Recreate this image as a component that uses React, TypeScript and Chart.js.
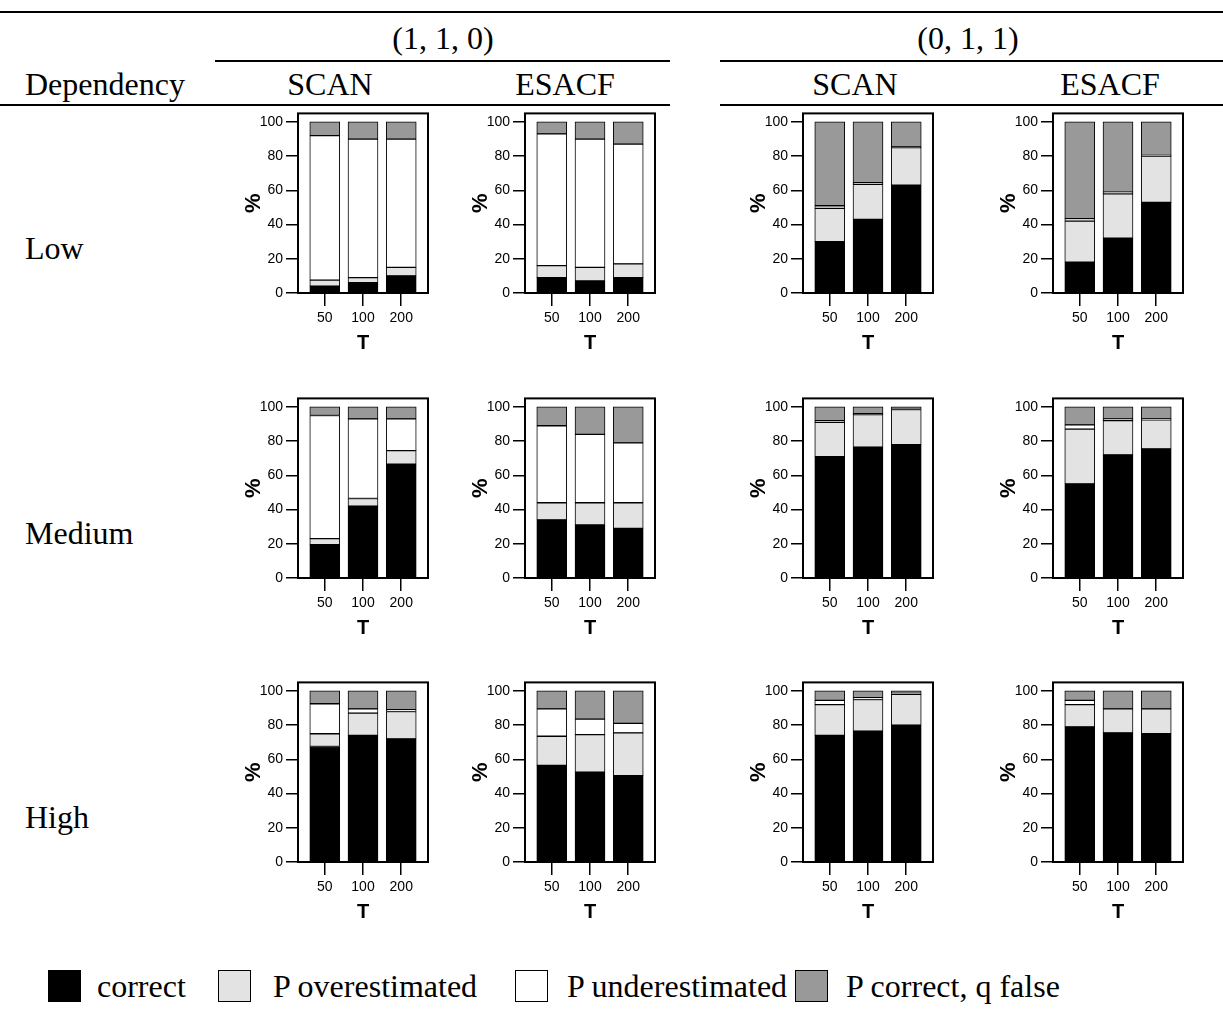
import React, { useEffect, useRef } from 'react';
import { Chart, registerables } from 'chart.js';

Chart.register(...registerables);

// Category and label text
const tLabels = ['50', '100', '200'];
const dependencyLevels = ['Low', 'Medium', 'High'];
const modelOrders = ['(1, 1, 0)', '(0, 1, 1)'];
const methods = ['SCAN', 'ESACF'];
const seriesNames = ['correct', 'P overestimated', 'P underestimated', 'P correct, q false'];
const seriesColors = ['#000000', '#e3e3e3', '#ffffff', '#999999'];
const yTickValues = [0, 20, 40, 60, 80, 100];

// Percentages per panel, panels in column order:
// (1,1,0) SCAN, (1,1,0) ESACF, (0,1,1) SCAN, (0,1,1) ESACF; each inner list is T = 50, 100, 200
const lowCorrect = [[4, 6, 10], [9, 7, 9], [30, 43, 63], [18, 32, 53]];
const lowOver = [[3.5, 3, 5], [7, 8, 8], [19.5, 20.5, 22], [24, 26, 27]];
const lowUnder = [[84.5, 81, 75], [77, 75, 70], [1.5, 1, 0.5], [1.5, 1, 0.5]];
const lowQFalse = [[8, 10, 10], [7, 10, 13], [49, 35.5, 14.5], [56.5, 41, 19.5]];

const mediumCorrect = [[19.5, 42, 66.5], [34, 31, 29], [71, 76.5, 78], [55, 72, 75.5]];
const mediumOver = [[3.5, 4.5, 8], [10, 13, 15], [20, 19, 20.5], [32, 20, 17]];
const mediumUnder = [[72, 46.5, 18.5], [45, 40, 35], [1, 0.5, 0], [2.5, 1, 0.5]];
const mediumQFalse = [[5, 7, 7], [11, 16, 21], [8, 4, 1.5], [10.5, 7, 7]];

const highCorrect = [[67.5, 74, 72], [56.5, 52.5, 50.5], [74, 76.5, 80], [79, 75.5, 75]];
const highOver = [[7.5, 13, 16], [17, 22, 25], [18, 18.5, 18], [13, 14, 14.5]];
const highUnder = [[17.5, 2.5, 1], [16, 9, 5.5], [2.5, 1, 0.5], [2.5, 0, 0]];
const highQFalse = [[7.5, 10.5, 11], [10.5, 16.5, 19], [5.5, 4, 1.5], [5.5, 10.5, 10.5]];

const rowSeries = [
  [lowCorrect, lowOver, lowUnder, lowQFalse],
  [mediumCorrect, mediumOver, mediumUnder, mediumQFalse],
  [highCorrect, highOver, highUnder, highQFalse],
];

// Page geometry
const frameLefts = [298, 525, 803, 1053];
const zeroLines = [293, 578, 862];
const frameWidth = 130;
const frameHeight = 181;
const yAxisWidth = 70;
const xAxisHeight = 70;
const padTop = 10;
const padRight = 5;
const canvasW = yAxisWidth + frameWidth + padRight;
const canvasH = padTop + frameHeight + xAxisHeight;

const sansFont = "'Liberation Sans', Arial, sans-serif";
const serifFont = "'Liberation Serif', 'Times New Roman', serif";

const framePlugin = {
  id: 'plotFrame',
  afterDatasetsDraw(chart: any) {
    const { ctx, chartArea } = chart;
    ctx.save();
    ctx.strokeStyle = '#000';
    ctx.lineWidth = 2;
    ctx.strokeRect(chartArea.left, chartArea.top, chartArea.right - chartArea.left, chartArea.bottom - chartArea.top);
    ctx.restore();
  },
};

function Panel({ values, left, top }: { values: number[][]; left: number; top: number }) {
  const ref = useRef<HTMLCanvasElement>(null);
  useEffect(() => {
    const tickFont = { family: sansFont, size: 14 };
    const chart = new Chart(ref.current as HTMLCanvasElement, {
      type: 'bar',
      data: {
        datasets: seriesNames.map((name, s) => ({
          label: name,
          data: values[s].map((v, i) => ({ x: i, y: v })),
          backgroundColor: seriesColors[s],
          borderColor: '#000',
          borderWidth: 1,
          borderSkipped: false,
          barThickness: 30,
        })),
      },
      options: {
        animation: false,
        responsive: false,
        maintainAspectRatio: false,
        layout: { padding: { top: padTop, right: padRight, left: 0, bottom: 0 } },
        plugins: { legend: { display: false }, tooltip: { enabled: false } },
        scales: {
          x: {
            type: 'linear',
            stacked: true,
            min: -0.7,
            max: 2.7,
            offset: false,
            afterBuildTicks: (s: any) => {
              s.ticks = tLabels.map((_, i) => ({ value: i }));
            },
            afterFit: (s: any) => {
              s.height = xAxisHeight;
            },
            ticks: {
              callback: (v: any) => tLabels[v] ?? '',
              font: tickFont,
              color: '#000',
              padding: 4,
              maxRotation: 0,
              autoSkip: false,
            },
            grid: { offset: false, drawOnChartArea: false, drawTicks: true, tickLength: 13, color: '#000', lineWidth: 1.5 },
            border: { display: false },
            title: {
              display: true,
              text: 'T',
              color: '#000',
              font: { family: sansFont, size: 20, weight: 'bold' },
              padding: { top: 0, bottom: 8 },
            },
          },
          y: {
            type: 'linear',
            stacked: true,
            min: 0,
            max: 105,
            afterBuildTicks: (s: any) => {
              s.ticks = yTickValues.map((v) => ({ value: v }));
            },
            afterFit: (s: any) => {
              s.width = yAxisWidth;
            },
            ticks: { font: tickFont, color: '#000', padding: 3 },
            grid: { drawOnChartArea: false, drawTicks: true, tickLength: 12, color: '#000', lineWidth: 1.5 },
            border: { display: false },
            title: {
              display: true,
              text: '%',
              color: '#000',
              font: { family: sansFont, size: 22, weight: 'bold' },
              padding: { top: 13, bottom: 0 },
            },
          },
        },
      } as any,
      plugins: [framePlugin],
    });
    return () => chart.destroy();
  }, [values]);
  return (
    <canvas
      ref={ref}
      width={canvasW}
      height={canvasH}
      style={{ position: 'absolute', left, top, width: canvasW, height: canvasH }}
    />
  );
}

const textBase: React.CSSProperties = {
  position: 'absolute',
  fontFamily: serifFont,
  fontSize: 32,
  lineHeight: 1,
  whiteSpace: 'nowrap',
  color: '#000',
};

function CenterText({ x, y, children }: { x: number; y: number; children: React.ReactNode }) {
  return <div style={{ ...textBase, left: x, top: y, transform: 'translate(-50%, -50%)' }}>{children}</div>;
}

function LeftText({ x, y, children }: { x: number; y: number; children: React.ReactNode }) {
  return <div style={{ ...textBase, left: x, top: y, transform: 'translateY(-50%)' }}>{children}</div>;
}

function HLine({ x1, x2, y }: { x1: number; x2: number; y: number }) {
  return <div style={{ position: 'absolute', left: x1, top: y - 1, width: x2 - x1, height: 2, background: '#000' }} />;
}

const orderCenters = [443, 968];
const methodCenters = [330, 565, 855, 1110];
const rowCenters = [248, 533, 817];
const legendBoxX = [48, 218, 515, 795];
const legendTextX = [97, 273, 567, 846];

export default function App() {
  return (
    <div style={{ position: 'absolute', left: 0, top: 0, width: 1223, height: 1016, background: '#fff', overflow: 'hidden' }}>
      <HLine x1={0} x2={1223} y={12} />
      {modelOrders.map((m, i) => (
        <CenterText key={m} x={orderCenters[i]} y={38}>{m}</CenterText>
      ))}
      <HLine x1={215} x2={670} y={61} />
      <HLine x1={720} x2={1223} y={61} />
      <LeftText x={25} y={84}>Dependency</LeftText>
      {methodCenters.map((c, i) => (
        <CenterText key={i} x={c} y={84}>{methods[i % 2]}</CenterText>
      ))}
      <HLine x1={0} x2={670} y={105} />
      <HLine x1={720} x2={1223} y={105} />

      {dependencyLevels.map((d, r) => (
        <LeftText key={d} x={25} y={rowCenters[r]}>{d}</LeftText>
      ))}

      {zeroLines.map((z, r) =>
        frameLefts.map((fl, c) => (
          <Panel
            key={`${r}-${c}`}
            values={rowSeries[r].map((series) => series[c])}
            left={fl - yAxisWidth}
            top={z - frameHeight - padTop}
          />
        ))
      )}

      {seriesNames.map((name, i) => (
        <React.Fragment key={name}>
          <div
            style={{
              position: 'absolute',
              left: legendBoxX[i],
              top: 970,
              width: 33,
              height: 32,
              boxSizing: 'border-box',
              background: seriesColors[i],
              border: '1.5px solid #000',
            }}
          />
          <LeftText x={legendTextX[i]} y={986}>{name}</LeftText>
        </React.Fragment>
      ))}
    </div>
  );
}
